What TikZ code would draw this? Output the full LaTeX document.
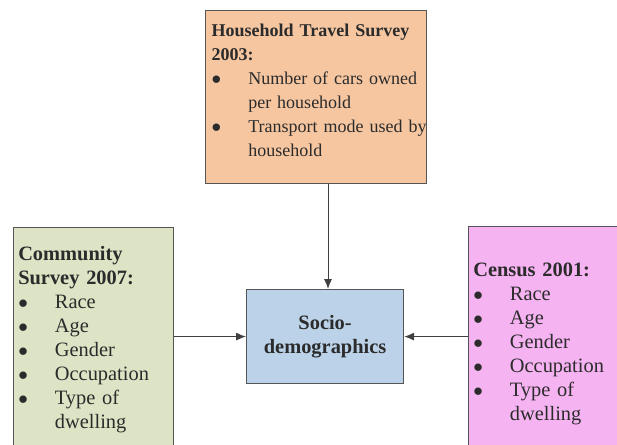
\documentclass[tikz,border=0pt]{standalone}
\usepackage{fontspec}
\setmainfont{Liberation Serif}
\usepackage{tikz}
\usetikzlibrary{positioning}
\usetikzlibrary{arrows.meta}
\definecolor{houseorange}{HTML}{F6C6A0}
\definecolor{communitygreen}{HTML}{DCE4C5}
\definecolor{socioblue}{HTML}{BBD2E8}
\definecolor{censuspink}{HTML}{F6B3F2}
\definecolor{boxedge}{HTML}{555555}
\definecolor{textdark}{HTML}{2B2B2B}
\newcommand{\bitem}[1]{\makebox[27.5pt][l]{$\bullet$}\mbox{#1}}
\newcommand{\bcont}[1]{\hspace*{27.5pt}\mbox{#1}}
\newcommand{\padbottom}[1]{\rule[-#1]{0pt}{#1}}

\begin{document}
\begin{tikzpicture}[
		x=0.75pt, y=-0.75pt,
		MyBoxes/.style={draw=boxedge, line width=0.9pt, rectangle, anchor=north west, align=left, text=textdark, inner ysep=0pt},
		SideBoxes/.style={MyBoxes, minimum width=120pt, text width=113pt, inner xsep=3.5pt, font=\fontsize{15.3}{18}\selectfont},
		MyArrows/.style={draw=black!75, line width=0.75pt, -{Latex[length=2.6mm, width=2.1mm]}}
		]

		\useasboundingbox (0,0) rectangle (617,445);
		\clip (0,0) rectangle (617,445);

		% corners of the boxes, in pixels of the page
		\coordinate (HouseCorner) at (205,10);
		\coordinate (CommCorner) at (13,227);
		\coordinate (SocioCorner) at (246,289);
		\coordinate (CensusCorner) at (468,226);
		\coordinate (Tip) at (328,0);

		\node[MyBoxes, fill=houseorange, minimum width=165.75pt, minimum height=129.75pt, text width=156.75pt, inner xsep=4.5pt, font=\fontsize{13.5}{18}\selectfont]
		(Household) at (HouseCorner) {\textbf{Household Travel Survey}\\
			\textbf{2003:}\\
			\bitem{Number of cars owned}\\
			\bcont{per household}\\
			\bitem{Transport mode used by}\\
			\bcont{household}\padbottom{9.9pt}};

		\node[SideBoxes, fill=communitygreen, minimum height=171pt]
		(Community) at (CommCorner) {\textbf{Community}\\
			\textbf{Survey 2007:}\\
			\bitem{Race}\\
			\bitem{Age}\\
			\bitem{Gender}\\
			\bitem{Occupation}\\
			\bitem{Type of}\\
			\bcont{dwelling}\padbottom{7pt}};

		\node[MyBoxes, fill=socioblue, align=center, minimum width=117.75pt, minimum height=70.5pt, font=\fontsize{15.3}{18}\selectfont\bfseries]
		(Socio) at (SocioCorner) {Socio-\\demographics};

		\node[SideBoxes, fill=censuspink, minimum height=180pt]
		(Census) at (CensusCorner) {\textbf{Census 2001:}\\
			\bitem{Race}\\
			\bitem{Age}\\
			\bitem{Gender}\\
			\bitem{Occupation}\\
			\bitem{Type of}\\
			\bcont{dwelling}\padbottom{7pt}};

		\draw[MyArrows] (Household.south -| Tip) -- (Socio.north -| Tip);
		\draw[MyArrows] (Community.east |- Socio.west) -- (Socio.west);
		\draw[MyArrows] (Census.west |- Socio.east) -- (Socio.east);

\end{tikzpicture}
\end{document}
